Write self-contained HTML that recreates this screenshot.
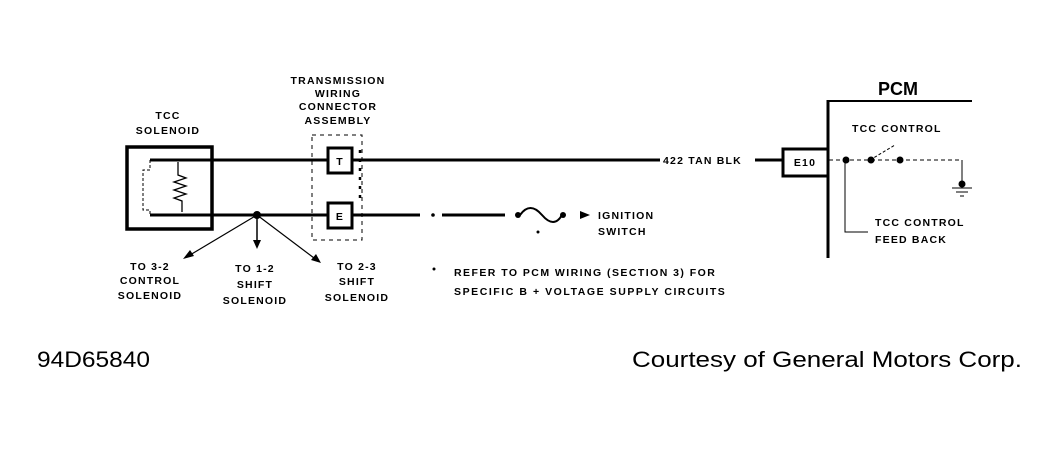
<!DOCTYPE html>
<html><head><style>
body{margin:0;background:#fff;}
svg text{font-family:"Liberation Sans",sans-serif;font-weight:bold;fill:#000;}
.s{font-size:10.5px;letter-spacing:1.2px;}
</style></head><body>
<svg width="1058" height="449" viewBox="0 0 1058 449" xmlns="http://www.w3.org/2000/svg">
<g stroke="#000" fill="none">
<rect x="127" y="147" width="85" height="82" stroke-width="3.5"/>
<line x1="150" y1="160" x2="327" y2="160" stroke-width="3"/>
<line x1="150" y1="215" x2="327" y2="215" stroke-width="3"/>
<path d="M150 160 V170 H143 V210 H150 V215" stroke-width="1" stroke-dasharray="3,2"/>
<path d="M178 162 V175 l8 3 l-12 4 l12 4 l-12 4 l12 4 l-12 4 l8 3 V212" stroke-width="1.3"/>
<rect x="328" y="148" width="24" height="25" stroke-width="3"/>
<rect x="328" y="203" width="24" height="25" stroke-width="3"/>
<rect x="312" y="135" width="50" height="105" stroke-width="1" stroke-dasharray="4,4"/>
<line x1="360" y1="150" x2="360" y2="200" stroke-width="2.5" stroke-dasharray="3,6"/>
<line x1="352" y1="160" x2="660" y2="160" stroke-width="3"/>
<line x1="755" y1="160" x2="782" y2="160" stroke-width="3"/>
<rect x="783" y="149" width="45" height="27" stroke-width="3"/>
<line x1="352" y1="215" x2="420" y2="215" stroke-width="3"/>
<line x1="442" y1="215" x2="505" y2="215" stroke-width="3"/>
<path d="M520 215 q10 -14 22 0 t20 0" stroke-width="2"/>
<line x1="828" y1="100" x2="828" y2="258" stroke-width="3"/>
<line x1="828" y1="101" x2="972" y2="101" stroke-width="2"/>
<line x1="829" y1="160" x2="960" y2="160" stroke-width="1" stroke-dasharray="4,3"/>
<line x1="870" y1="160" x2="895" y2="145" stroke-width="1" stroke-dasharray="3,2"/>
<line x1="962" y1="160" x2="962" y2="182" stroke-width="1"/>
<line x1="952" y1="188" x2="972" y2="188" stroke-width="1"/>
<line x1="956" y1="192" x2="968" y2="192" stroke-width="1"/>
<line x1="960" y1="196" x2="964" y2="196" stroke-width="1"/>
<path d="M845 160 V232 H868" stroke-width="1"/>
<line x1="257" y1="215" x2="190" y2="255" stroke-width="1.2"/>
<line x1="257" y1="215" x2="257" y2="242" stroke-width="1.5"/>
<line x1="257" y1="215" x2="314" y2="258" stroke-width="1.2"/>
</g>
<g fill="#000">
<circle cx="257" cy="215" r="4"/>
<circle cx="433" cy="215" r="1.8"/>
<circle cx="518" cy="215" r="3"/>
<circle cx="563" cy="215" r="3"/>
<circle cx="538" cy="232" r="1.5"/>
<polygon points="590,215 580,211 580,219"/>
<polygon points="183,259 190,250 194,256"/>
<polygon points="257,249 253,240 261,240"/>
<polygon points="321,263 311,260 316,254"/>
<circle cx="846" cy="160" r="3.5"/>
<circle cx="871" cy="160" r="3.5"/>
<circle cx="900" cy="160" r="3.5"/>
<circle cx="962" cy="184" r="3.5"/>
<circle cx="434" cy="269" r="1.5"/>
</g>
<text class="s" x="168" y="119" text-anchor="middle">TCC</text>
<text class="s" x="168" y="134" text-anchor="middle">SOLENOID</text>
<text class="s" x="338" y="84" text-anchor="middle">TRANSMISSION</text>
<text class="s" x="338" y="97" text-anchor="middle">WIRING</text>
<text class="s" x="338" y="110" text-anchor="middle">CONNECTOR</text>
<text class="s" x="338" y="124" text-anchor="middle">ASSEMBLY</text>
<text class="s" x="340" y="165" text-anchor="middle">T</text>
<text class="s" x="340" y="220" text-anchor="middle">E</text>
<text class="s" x="663" y="164">422 TAN BLK</text>
<text class="s" x="805" y="166" text-anchor="middle">E10</text>
<text x="878" y="95" style="font-size:18px">PCM</text>
<text class="s" x="852" y="132">TCC CONTROL</text>
<text class="s" x="875" y="226">TCC CONTROL</text>
<text class="s" x="875" y="243">FEED BACK</text>
<text class="s" x="598" y="219">IGNITION</text>
<text class="s" x="598" y="235">SWITCH</text>
<text class="s" x="150" y="270" text-anchor="middle">TO 3-2</text>
<text class="s" x="150" y="284" text-anchor="middle">CONTROL</text>
<text class="s" x="150" y="299" text-anchor="middle">SOLENOID</text>
<text class="s" x="255" y="272" text-anchor="middle">TO 1-2</text>
<text class="s" x="255" y="288" text-anchor="middle">SHIFT</text>
<text class="s" x="255" y="304" text-anchor="middle">SOLENOID</text>
<text class="s" x="357" y="270" text-anchor="middle">TO 2-3</text>
<text class="s" x="357" y="285" text-anchor="middle">SHIFT</text>
<text class="s" x="357" y="301" text-anchor="middle">SOLENOID</text>
<text class="s" x="454" y="276" textLength="262">REFER TO PCM WIRING (SECTION 3) FOR</text>
<text class="s" x="454" y="295" textLength="272">SPECIFIC B +  VOLTAGE SUPPLY CIRCUITS</text>
<text x="37" y="367" style="font-size:22px;font-weight:normal" textLength="113" lengthAdjust="spacingAndGlyphs">94D65840</text>
<text x="632" y="367" style="font-size:22px;font-weight:normal" textLength="390" lengthAdjust="spacingAndGlyphs">Courtesy of General Motors Corp.</text>
</svg>
</body></html>
